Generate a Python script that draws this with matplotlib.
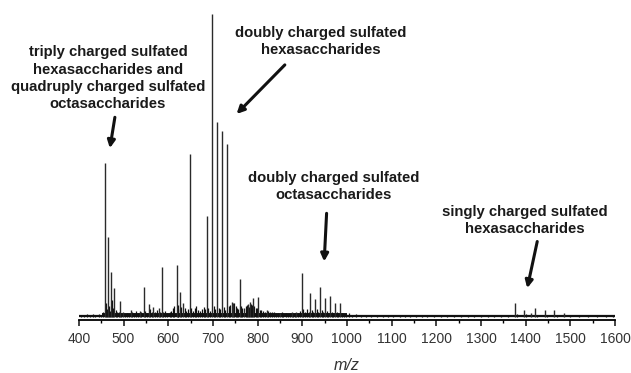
import numpy as np
import matplotlib
matplotlib.use("Agg")
import matplotlib.pyplot as plt

plt.rcParams['font.family'] = ['Liberation Sans', 'DejaVu Sans']

# main peaks: m/z and relative intensity (%)
peak_mz = [458, 465, 471.6, 479, 492, 499, 516, 536.6, 545.5, 556.7, 567, 579, 585,
           618.6, 626, 633.6, 648.5, 687, 698, 709.6, 720, 731, 742, 745.5, 760,
           770, 779, 783, 790, 802, 820, 850, 876, 887, 898.5, 917, 928, 939.6,
           950.7, 962, 973, 984, 1376, 1396, 1412, 1421, 1443, 1464, 1486.5]
peak_int = [50.8, 26.4, 14.9, 9.6, 5.3, 1.7, 2.3, 2.0, 9.9, 4.3, 3.3, 3.0, 16.5,
            17.2, 8.3, 4.6, 53.8, 33.3, 100, 64.4, 61.4, 57.1, 5.0, 4.6, 12.5,
            3.0, 4.3, 5.0, 6.3, 6.6, 2.3, 1.3, 1.7, 1.7, 14.5, 7.9, 5.9, 9.9,
            6.3, 6.9, 4.6, 4.6, 4.6, 2.3, 1.3, 3.0, 2.3, 2.3, 1.3]

# low-level chemical noise
noise_mz = [405, 412, 418, 425, 431, 437, 444, 449,
            455, 460, 462, 467, 469, 474, 476, 482, 486, 489, 495,
            503, 508, 512, 520, 524, 528, 532, 540, 549, 552, 560, 563, 571, 575, 582, 589, 593, 598,
            603, 607, 611, 614, 621, 623, 629, 637, 640, 644, 652, 655, 659, 663, 667, 671, 675, 679,
            683, 690, 693, 702, 705, 713, 716, 724, 727,
            735, 738, 748, 751, 754, 757, 763, 766, 773, 776, 781, 786, 788, 793, 796, 799, 805,
            808, 812, 816, 824, 828, 832, 837, 842, 846, 854, 858, 863, 868, 872, 880, 884, 891, 895,
            902, 906, 911, 914, 921, 925, 932, 935, 944, 947, 955, 958, 966, 969, 977, 980, 988, 993, 998,
            1005, 1012, 1020, 1032, 1043, 1055, 1068, 1080, 1092, 1104, 1118, 1130, 1142, 1155, 1168,
            1180, 1195, 1210, 1225, 1240, 1255, 1270, 1285, 1300, 1315, 1330, 1345, 1360, 1380, 1400,
            1425, 1448, 1470, 1500, 1520, 1540, 1560, 1580, 1595]
noise_int = [0.8, 0.5, 0.9, 0.6, 1.0, 0.7, 1.1, 0.6,
             1.5, 4.5, 2.5, 3.5, 2.0, 5.5, 3.0, 2.2, 1.8, 1.5, 1.2,
             1.0, 1.4, 1.0, 1.6, 1.2, 2.0, 1.3, 1.5, 2.0, 1.4, 2.5, 1.5, 1.8, 2.4, 1.6, 1.5, 2.0, 1.2,
             1.5, 2.0, 2.8, 3.5, 4.0, 2.5, 3.2, 3.0, 2.0, 2.5, 3.0, 2.0, 2.8, 3.5, 2.2, 2.0, 2.6, 3.2,
             2.5, 3.0, 2.0, 3.5, 2.5, 3.0, 2.5, 3.2, 2.4,
             3.5, 4.0, 4.5, 3.5, 3.0, 2.5, 3.5, 2.8, 3.6, 4.0, 3.2, 4.2, 3.8, 3.5, 3.0, 2.8, 2.4,
             2.2, 2.0, 1.8, 2.0, 1.6, 1.5, 1.6, 1.3, 1.2, 1.5, 1.0, 1.2, 1.0, 1.4, 1.0, 1.3, 1.2, 2.0,
             2.5, 1.8, 2.5, 1.6, 2.2, 1.6, 2.5, 1.8, 2.2, 1.5, 2.0, 1.4, 1.8, 1.2, 1.5, 1.2, 1.3, 1.0, 0.9,
             1.2, 0.6, 0.9, 0.5, 0.8, 0.5, 0.7, 0.5, 0.6, 0.8, 0.5, 0.6, 0.7, 0.5, 0.6,
             0.5, 0.6, 0.5, 0.5, 0.6, 0.4, 0.5, 0.4, 0.5, 0.4, 0.5, 0.4, 0.5, 1.0, 1.0,
             0.8, 0.7, 0.6, 0.5, 0.4, 0.6, 0.4, 0.4, 0.4]

baseline_mz = [400, 1600]
dense_mz = [452, 1000]

labels = ["triply charged sulfated\nhexasaccharides and\nquadruply charged sulfated\noctasaccharides",
          "doubly charged sulfated\nhexasaccharides",
          "doubly charged sulfated\noctasaccharides",
          "singly charged sulfated\nhexasaccharides"]
label_xy = [(465, 78.8), (941.8, 91.0), (970.8, 43.0), (1398.4, 31.8)]
arrow_tail = [(480.6, 65.9), (861, 83.2), (954.5, 34.2), (1426, 24.9)]
arrow_head = [(469.4, 55.7), (753, 67.0), (949.1, 18.3), (1403.6, 9.5)]

fig = plt.figure(figsize=(6.31, 3.73), dpi=100)
ax = fig.add_axes([0.125, 0.1421, 0.8496, 0.8204])

ax.plot(baseline_mz, [0.4, 0.4], color='#111111', lw=1.6, solid_capstyle='butt')
ax.plot(dense_mz, [0.6, 0.6], color='#111111', lw=2.8, solid_capstyle='butt')
ax.vlines(noise_mz, 0, noise_int, color='#111111', lw=0.9)
ax.vlines(peak_mz, 0, peak_int, color='#2a2a2a', lw=1.0)

ax.set_xlim(400, 1600)
ax.set_ylim(-1.0, 100)

for s in ['left', 'right', 'top']:
    ax.spines[s].set_visible(False)
ax.spines['bottom'].set_linewidth(1.3)
ax.set_yticks([])
ax.set_xticks(np.arange(400, 1601, 100))
ax.set_xticks(np.arange(450, 1600, 100), minor=True)
ax.tick_params(axis='x', which='major', direction='out', length=4, width=1.1,
               labelsize=10, pad=5, colors='#111111', labelcolor='#333333')
ax.tick_params(axis='x', which='minor', direction='out', length=2.5, width=1.0)
ax.set_xlabel('m/z', fontsize=11.5, style='italic', labelpad=8, color='#333333')

for txt, (tx, ty), tail, head in zip(labels, label_xy, arrow_tail, arrow_head):
    ax.text(tx, ty, txt, ha='center', va='center', fontsize=10.7,
            fontweight='bold', color='#1a1a1a', linespacing=1.3)
    ax.annotate('', xy=head, xytext=tail,
                arrowprops=dict(arrowstyle='-|>', lw=2.2, color='#111111',
                                mutation_scale=11, shrinkA=0, shrinkB=0))

fig.savefig('out.png', dpi=100)
